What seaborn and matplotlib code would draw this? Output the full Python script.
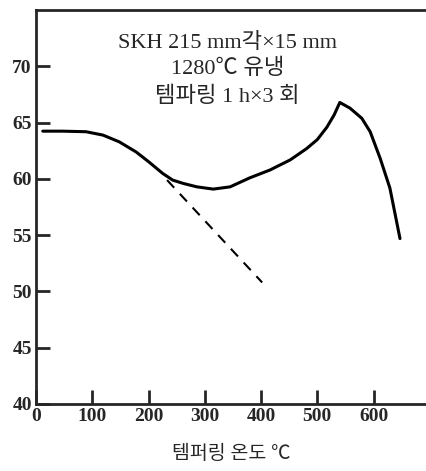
import matplotlib
matplotlib.use("Agg")
import matplotlib.pyplot as plt
import seaborn as sns
import pandas as pd

# hardness curve (HRC) vs tempering temperature
temp = [12, 47, 89, 119, 148, 178, 201, 225, 243, 262, 286, 315, 345, 380, 416, 452,
        481, 500, 517, 530, 540, 558, 579, 594, 612, 629, 647]
hrc = [64.25, 64.25, 64.2, 63.9, 63.3, 62.4, 61.5, 60.5, 59.9, 59.6, 59.3, 59.1, 59.3, 60.1, 60.8, 61.7,
       62.7, 63.5, 64.6, 65.7, 66.8, 66.3, 65.4, 64.2, 61.8, 59.2, 54.7]

# extrapolated (dashed) line
ext_temp = [233, 402]
ext_hrc = [59.9, 50.8]

x_ticks = [0, 100, 200, 300, 400, 500, 600]
y_ticks = [40, 45, 50, 55, 60, 65, 70]

sns.set_style("ticks")
plt.rcParams['font.family'] = ['Liberation Serif', 'Noto Sans CJK KR']

df = pd.DataFrame({'temp': temp, 'hrc': hrc})
df_ext = pd.DataFrame({'temp': ext_temp, 'hrc': ext_hrc})

fig = plt.figure(figsize=(4.27, 4.71), dpi=100)
ax = fig.add_axes([0.0843, 0.1423, 0.9157, 0.836])

sns.lineplot(data=df, x='temp', y='hrc', ax=ax, color='black', linewidth=2.2, sort=False)
sns.lineplot(data=df_ext, x='temp', y='hrc', ax=ax, color='black', linewidth=1.5,
             linestyle=(0, (5, 4)))

ax.set_xlim(0, 695)
ax.set_ylim(40, 75)
ax.set_xticks(x_ticks)
ax.set_yticks(y_ticks)
ax.tick_params(direction='in', length=10, width=2, labelsize=14, pad=3)
for lbl in ax.get_xticklabels() + ax.get_yticklabels():
    lbl.set_fontweight('bold')

ax.spines['right'].set_visible(False)
for s in ['left', 'bottom', 'top']:
    ax.spines[s].set_linewidth(2)

ax.set_xlabel('템퍼링 온도 ℃', fontsize=14, labelpad=14)
ax.set_ylabel('')

ax.text(340, 72.1, 'SKH 215 mm각×15 mm', ha='center', va='center', fontsize=16)
ax.text(340, 69.8, '1280℃ 유냉', ha='center', va='center', fontsize=16)
ax.text(340, 67.3, '템파링 1 h×3 회', ha='center', va='center', fontsize=16)

fig.savefig('out.png', dpi=100)
